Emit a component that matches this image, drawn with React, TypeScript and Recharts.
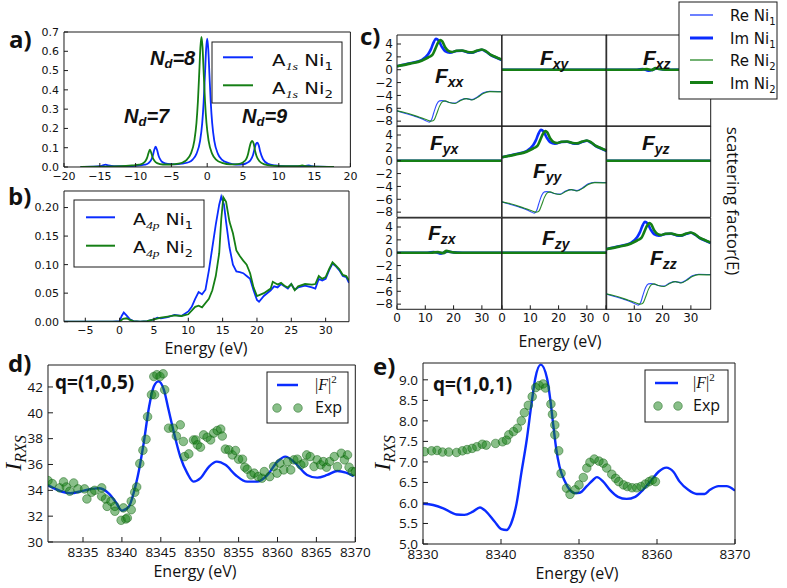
import React from 'react';
import { ComposedChart, Line, Scatter, XAxis, YAxis } from 'recharts';

// ---- data ----
const aNi1 = [[-17.7, 0.001], [-16, 0.002], [-15, 0.004], [-14.6, 0.008], [-14.2, 0.012], [-13.8, 0.008], [-13, 0.004], [-11, 0.004], [-9.5, 0.008], [-8.7, 0.012], [-8.2, 0.02], [-7.8, 0.038], [-7.6, 0.058], [-7.4, 0.088], [-7.2, 0.105], [-7.0, 0.088], [-6.8, 0.06], [-6.6, 0.042], [-6.2, 0.024], [-5.5, 0.016], [-4.5, 0.014], [-3.5, 0.018], [-2.5, 0.026], [-2, 0.04], [-1.5, 0.068], [-1, 0.134], [-0.7, 0.226], [-0.5, 0.334], [-0.3, 0.49], [-0.15, 0.611], [0, 0.665], [0.15, 0.611], [0.3, 0.49], [0.5, 0.334], [0.7, 0.226], [1, 0.134], [1.5, 0.068], [2, 0.04], [3, 0.02], [4, 0.013], [5, 0.014], [5.5, 0.02], [6, 0.033], [6.4, 0.062], [6.6, 0.092], [6.8, 0.118], [7, 0.126], [7.2, 0.112], [7.4, 0.08], [7.8, 0.04], [8.5, 0.016], [9.5, 0.008], [11, 0.004], [13, 0.004], [13.8, 0.006], [14.2, 0.008], [14.6, 0.005], [15.5, 0.002], [17.7, 0.001]];
const aNi2 = [[-17.7, 0.001], [-15, 0.002], [-12, 0.004], [-10.5, 0.008], [-9.5, 0.012], [-9.0, 0.018], [-8.6, 0.032], [-8.4, 0.047], [-8.2, 0.072], [-8.0, 0.09], [-7.8, 0.072], [-7.6, 0.047], [-7.4, 0.034], [-7.0, 0.02], [-6.2, 0.013], [-5, 0.013], [-4, 0.017], [-3.3, 0.026], [-2.8, 0.04], [-2.3, 0.068], [-1.8, 0.135], [-1.5, 0.228], [-1.3, 0.338], [-1.1, 0.497], [-0.95, 0.62], [-0.8, 0.675], [-0.65, 0.62], [-0.5, 0.497], [-0.3, 0.338], [-0.1, 0.228], [0.2, 0.135], [0.7, 0.068], [1.2, 0.04], [2.2, 0.02], [3.2, 0.014], [4.3, 0.015], [5.0, 0.024], [5.5, 0.045], [5.7, 0.066], [5.9, 0.1], [6.1, 0.126], [6.3, 0.135], [6.5, 0.12], [6.7, 0.082], [6.9, 0.056], [7.3, 0.03], [8.0, 0.014], [9, 0.007], [11, 0.004], [12.5, 0.004], [13.0, 0.006], [13.3, 0.008], [13.7, 0.005], [15, 0.002], [17.7, 0.001]];

const bNi1 = [[-8.1, 0], [-1, 0], [0, 0.001], [0.3, 0.01], [0.6, 0.016], [1.0, 0.011], [1.5, 0.004], [2, 0.001], [3, 0], [4, 0.001], [5, 0.004], [5.5, 0.007], [6, 0.006], [7, 0.008], [8, 0.012], [9, 0.01], [10, 0.018], [10.5, 0.026], [11, 0.04], [11.5, 0.052], [12, 0.048], [12.5, 0.056], [13, 0.09], [13.5, 0.13], [14, 0.17], [14.5, 0.205], [14.8, 0.219], [15.2, 0.205], [15.5, 0.175], [16, 0.13], [16.5, 0.1], [17, 0.088], [17.5, 0.087], [18, 0.085], [18.5, 0.08], [19, 0.075], [19.5, 0.055], [20, 0.038], [20.3, 0.035], [21, 0.045], [22, 0.055], [22.5, 0.062], [23, 0.06], [23.5, 0.066], [24, 0.062], [24.5, 0.058], [25, 0.066], [25.5, 0.056], [26, 0.06], [27, 0.063], [28, 0.06], [28.5, 0.058], [29, 0.075], [29.5, 0.072], [30, 0.075], [30.5, 0.09], [31, 0.102], [31.5, 0.097], [32, 0.09], [32.5, 0.08], [33, 0.078], [33.4, 0.068]];
const bNi2 = [[-8.1, 0], [0, 0], [0.5, 0.005], [1, 0.006], [1.5, 0.003], [2, 0.001], [3, 0], [4, 0.001], [5, 0.004], [6, 0.007], [7, 0.009], [8, 0.011], [9, 0.01], [10, 0.013], [11, 0.026], [11.5, 0.028], [12, 0.025], [13, 0.04], [13.5, 0.055], [14, 0.08], [14.5, 0.12], [14.8, 0.18], [15.1, 0.218], [15.5, 0.21], [16, 0.175], [16.5, 0.155], [17, 0.125], [17.5, 0.115], [18, 0.107], [18.5, 0.1], [19, 0.085], [19.5, 0.06], [20, 0.045], [21, 0.05], [22, 0.058], [22.3, 0.07], [23, 0.065], [23.5, 0.068], [24, 0.063], [24.5, 0.06], [25, 0.066], [25.5, 0.055], [26, 0.062], [27, 0.066], [28, 0.065], [28.5, 0.066], [29, 0.08], [29.5, 0.075], [30, 0.078], [30.5, 0.092], [31, 0.104], [31.5, 0.098], [32, 0.092], [32.5, 0.082], [33, 0.08], [33.4, 0.072]];

// panel c: diagonal components
const reNi1 = [[0, -6.4], [3, -6.8], [6, -7.2], [8, -7.5], [10, -7.9], [11.4, -8.15], [12.2, -7.8], [13, -6.7], [14, -5.4], [15, -4.85], [16, -4.8], [17, -4.9], [18.5, -5.1], [20.5, -5.2], [22.5, -4.7], [24.5, -4.5], [26.5, -4.65], [28.5, -4.2], [30.5, -3.6], [32.8, -3.35], [37, -3.4]];
const reNi2 = [[0, -6.4], [3, -6.7], [6, -7.1], [8, -7.4], [10, -7.7], [12, -8.0], [12.9, -7.9], [14, -6.9], [15, -5.7], [16, -5.0], [17, -4.85], [18.5, -5.1], [20.5, -5.25], [22.5, -4.8], [24.5, -4.5], [26.5, -4.7], [28.5, -4.3], [30.5, -3.7], [32.8, -3.4], [37, -3.45]];
const imNi1 = [[0, 0.55], [4.6, 1.0], [8.7, 1.5], [11, 2.4], [12, 3.2], [12.8, 4.1], [13.8, 4.8], [14.6, 4.6], [15.8, 3.6], [17, 2.9], [18.7, 2.65], [21, 2.9], [23, 2.95], [25, 2.7], [26.5, 2.65], [28.5, 2.95], [30, 3.1], [31.5, 2.8], [33, 2.3], [35, 1.9], [37, 1.5]];
const imNi2 = [[0, 0.55], [4.6, 0.95], [8.7, 1.4], [11, 1.9], [12.5, 2.3], [13.5, 3.2], [14.5, 4.2], [15.3, 4.6], [16, 4.4], [17, 3.5], [18.3, 2.9], [19.5, 2.75], [21, 2.95], [23, 3.0], [25, 2.75], [26.5, 2.7], [28.5, 3.0], [30, 3.15], [31.5, 2.85], [33, 2.35], [35, 1.95], [37, 1.6]];
// off-diagonal
const zeroLine = [[0, 0], [37, 0]];
const xzRe1 = [[0, 0], [10, 0], [12, 0.05], [14, 0.15], [15.5, -0.2], [17, 0.1], [19, 0.15], [21, 0], [25, 0.05], [30, 0], [37, 0]];
const xzIm1 = [[0, 0], [11, 0], [13, 0.1], [15, -0.15], [16.5, 0], [18, 0.2], [20, 0.05], [23, 0], [37, 0]];
const xzRe2 = [[0, 0], [12, 0], [14, 0.1], [16.5, -0.15], [18, 0.2], [20, 0.1], [22, 0], [37, 0]];
const xzIm2 = [[0, 0], [12, 0], [14.5, 0.1], [16, -0.05], [17.5, 0.25], [19, 0.1], [21, 0], [37, 0]];
const zxRe1 = [[0, 0], [10, 0], [12, 0.1], [14, 0.15], [15.5, -0.25], [17, 0.05], [19, 0.15], [21, 0], [30, 0], [35, -0.1], [37, -0.05]];
const zxIm1 = [[0, 0], [11, 0], [13, 0.12], [15, -0.1], [16.5, 0], [18, 0.2], [20, 0.05], [23, 0], [37, 0]];
const zxRe2 = [[0, 0], [12, 0], [14, 0.1], [16.5, -0.2], [18, 0.2], [20, 0.1], [22, 0], [34, 0], [36, -0.08], [37, 0]];
const zxIm2 = [[0, 0], [12, 0], [14.5, 0.1], [16, -0.05], [17.5, 0.3], [19, 0.1], [21, 0], [37, 0]];

const dFit = [[8330.4, 34.42], [8333.4, 33.77], [8335.1, 33.98], [8337, 34.16], [8338.3, 33.77], [8339.2, 33.1], [8340, 32.43], [8340.9, 32.74], [8341.5, 33.77], [8342.2, 35.58], [8342.8, 37.65], [8343.5, 40.49], [8344.1, 42.04], [8344.7, 42.43], [8345.4, 41.78], [8346, 40.23], [8346.7, 38.43], [8347.5, 36.61], [8348.4, 35.33], [8349.2, 34.67], [8350.1, 34.94], [8351.2, 35.84], [8352.2, 36.22], [8353.3, 35.97], [8354.6, 35.19], [8356.1, 34.67], [8357.4, 34.67], [8358.7, 35.19], [8360, 36.22], [8361, 36.61], [8362.3, 36.1], [8363.8, 35.19], [8365.1, 34.98], [8366.4, 35.19], [8367.7, 35.5], [8368.8, 35.37], [8369.8, 35.1]];
const dExp = [[8330.5, 34.75], [8331.05, 34.52], [8332.0, 34.19], [8332.5, 34.65], [8332.85, 34.26], [8333.3, 33.93], [8333.8, 34.57], [8334.35, 34.11], [8335.2, 34.11], [8335.5, 33.33], [8336.1, 33.85], [8336.5, 34.0], [8337.4, 34.19], [8337.4, 33.54], [8337.9, 33.33], [8338.1, 32.76], [8338.6, 33.15], [8339.1, 32.76], [8339.1, 32.38], [8339.9, 31.68], [8340.2, 32.64], [8340.5, 31.78], [8340.7, 31.86], [8341.2, 32.5], [8341.2, 33.15], [8341.65, 33.85], [8341.9, 34.26], [8342.3, 36.07], [8342.7, 37.1], [8343.1, 37.95], [8343.3, 39.7], [8343.8, 41.4], [8344.2, 41.4], [8344.1, 42.81], [8344.5, 42.95], [8344.9, 42.81], [8345.3, 43.02], [8345.5, 41.78], [8346.0, 38.81], [8346.6, 38.81], [8347.0, 38.2], [8347.5, 39.07], [8347.9, 37.78], [8348.05, 36.61], [8348.6, 36.82], [8349.2, 37.9], [8349.5, 37.9], [8349.7, 37.52], [8350.1, 37.34], [8350.5, 38.29], [8350.95, 38.11], [8351.4, 37.9], [8351.8, 38.43], [8352.25, 38.63], [8352.7, 38.74], [8352.9, 38.2], [8353.3, 37.19], [8353.75, 37.13], [8354.2, 36.74], [8354.6, 37.08], [8355.0, 36.41], [8355.5, 36.41], [8355.8, 35.79], [8356.1, 35.63], [8356.6, 35.19], [8357.0, 35.33], [8357.5, 35.06], [8358.0, 34.94], [8358.3, 35.45], [8359.0, 35.06], [8359.5, 35.84], [8359.95, 35.33], [8360.3, 36.1], [8360.8, 35.58], [8361.3, 36.22], [8361.7, 35.58], [8362.1, 36.36], [8362.55, 36.41], [8363.0, 35.97], [8363.4, 36.1], [8363.75, 36.74], [8364.2, 36.61], [8364.7, 35.84], [8365.1, 36.36], [8365.55, 35.97], [8365.9, 36.22], [8366.3, 35.79], [8366.7, 36.22], [8367.3, 36.61], [8367.7, 35.84], [8368.2, 36.87], [8368.6, 36.36], [8369.0, 36.74], [8369.2, 35.79], [8369.6, 35.45], [8370.0, 35.45]];

const eFit = [[8330, 5.98], [8331.3, 5.95], [8332.6, 5.87], [8334.3, 5.72], [8335.3, 5.71], [8336.4, 5.79], [8337.3, 5.89], [8338.1, 5.79], [8339.2, 5.54], [8340.05, 5.36], [8340.7, 5.34], [8341.3, 5.5], [8342.0, 5.99], [8342.6, 6.72], [8343.3, 7.54], [8343.9, 8.4], [8344.4, 9.04], [8345.1, 9.37], [8345.9, 9.04], [8346.3, 8.55], [8346.7, 7.9], [8347.1, 7.29], [8347.5, 6.89], [8348.2, 6.52], [8348.8, 6.32], [8349.5, 6.24], [8350.1, 6.25], [8351.0, 6.41], [8351.8, 6.56], [8352.3, 6.63], [8353.1, 6.52], [8353.96, 6.32], [8355.0, 6.15], [8356.1, 6.1], [8357.2, 6.15], [8358.2, 6.32], [8359.3, 6.56], [8360.2, 6.76], [8361.2, 6.86], [8362.1, 6.76], [8362.9, 6.52], [8364.0, 6.32], [8365.1, 6.22], [8366.1, 6.22], [8366.8, 6.32], [8367.9, 6.41], [8368.9, 6.41], [8370, 6.3]];
const eExp = [[8330.2, 7.25], [8331.1, 7.27], [8331.8, 7.28], [8332.5, 7.24], [8333.3, 7.24], [8334.3, 7.23], [8335.05, 7.27], [8335.65, 7.3], [8336.3, 7.33], [8336.9, 7.37], [8337.6, 7.43], [8338.1, 7.41], [8339.3, 7.45], [8340.2, 7.49], [8340.7, 7.53], [8341.0, 7.66], [8341.6, 7.74], [8342.1, 7.82], [8342.6, 8.0], [8343.0, 8.2], [8343.5, 8.38], [8344.0, 8.59], [8344.45, 8.81], [8344.9, 8.86], [8345.4, 8.9], [8345.7, 8.8], [8346.4, 8.41], [8346.6, 8.16], [8346.9, 7.9], [8346.9, 7.66], [8347.4, 7.27], [8347.7, 6.72], [8348.4, 6.36], [8348.85, 6.21], [8349.5, 6.32], [8350.0, 6.44], [8350.55, 6.62], [8351.0, 6.85], [8351.4, 6.99], [8351.96, 7.07], [8352.56, 7.02], [8353.1, 6.97], [8353.55, 6.85], [8354.2, 6.7], [8354.7, 6.6], [8355.1, 6.52], [8355.7, 6.44], [8356.2, 6.4], [8356.8, 6.37], [8357.4, 6.37], [8357.95, 6.4], [8358.5, 6.46], [8359.0, 6.52], [8359.4, 6.56], [8359.8, 6.52]];

// tick labels
const aXTicks = [-20, -15, -10, -5, 0, 5, 10, 15, 20];
const aYTicks = [0, 0.1, 0.2, 0.3, 0.4, 0.5, 0.6, 0.7];
const bXTicks = [-5, 0, 5, 10, 15, 20, 25, 30];
const bYTicks = [0, 0.05, 0.1, 0.15, 0.2];
const cXTicks = [0, 10, 20, 30];
const cYTicks = [4, 2, 0, -2, -4, -6, -8];
const dXTicks = [8335, 8340, 8345, 8350, 8355, 8360, 8365, 8370];
const dYTicks = [30, 32, 34, 36, 38, 40, 42];
const eXTicks = [8330, 8340, 8350, 8360, 8370];
const eYTicks = [5, 5.5, 6, 6.5, 7, 7.5, 8, 8.5, 9];

const BLUE = '#0a2cff';
const GREEN = '#157f15';
const AX = '#1a1a1a';
const SANS = '"Open Sans", sans-serif';
const DJ = '"DejaVu Sans", sans-serif';
const SERIF = '"Liberation Serif", serif';
const ARIAL = '"Liberation Sans", Arial, sans-serif';

const toPts = (d: number[][]) => d.map(([x, y]) => ({ x, y }));
const fmt = (digits: number) => (v: number) => (v < 0 ? '\u2212' : '') + Math.abs(v).toFixed(digits);

const LW = 50;
const BH = 30;
const PT = 12;
const PR = 26;

type Box = { x: number; y: number; w: number; h: number };

interface FrameProps {
  box: Box;
  xDomain: [number, number];
  yDomain: [number, number];
  xTicks: number[];
  yTicks: number[];
  xFmt?: (v: number) => string;
  yFmt?: (v: number) => string;
  showX?: boolean;
  showY?: boolean;
  size: number;
  family: string;
  tl: number;
  gap: number;
  children?: React.ReactNode;
}

function Frame({ box, xDomain, yDomain, xTicks, yTicks, xFmt, yFmt, showX = true, showY = true, size, family, tl, gap, children }: FrameProps) {
  const tickStyle = { fontSize: size, fontFamily: family, fill: '#111' };
  return (
    <div style={{ position: 'absolute', left: box.x - LW, top: box.y - PT - 1 }}>
      <ComposedChart width={LW + box.w + 1 + PR} height={PT + 1 + box.h + BH} margin={{ top: PT, right: PR, bottom: 0, left: 0 }}>
        <XAxis xAxisId="b" dataKey="x" type="number" domain={xDomain} ticks={xTicks} allowDataOverflow interval={0} height={BH} stroke={AX} tickSize={-tl} tickMargin={tl + gap} tick={showX ? tickStyle : false} tickFormatter={xFmt} />
        <XAxis xAxisId="t" orientation="top" type="number" domain={xDomain} ticks={xTicks} allowDataOverflow interval={0} height={1} stroke={AX} tickSize={-tl} tick={false} />
        <YAxis yAxisId="l" dataKey="y" type="number" domain={yDomain} ticks={yTicks} allowDataOverflow interval={0} width={LW} stroke={AX} tickSize={-tl} tickMargin={tl + gap} tick={showY ? tickStyle : false} tickFormatter={yFmt} />
        <YAxis yAxisId="r" orientation="right" type="number" domain={yDomain} ticks={yTicks} allowDataOverflow interval={0} width={1} stroke={AX} tickSize={-tl} tick={false} />
        {children}
      </ComposedChart>
    </div>
  );
}

function curve(d: number[][], color: string, w: number, key: string, type: 'monotone' | 'linear' = 'monotone', opacity = 1) {
  return (
    <Line key={key} xAxisId="b" yAxisId="l" data={toPts(d)} dataKey="y" type={type} stroke={color} strokeWidth={w} strokeOpacity={opacity} dot={false} activeDot={false} isAnimationActive={false} />
  );
}

const expDot = (props: any) => (
  <circle cx={props.cx} cy={props.cy} r={4.3} fill="rgba(20,128,20,0.5)" stroke="rgba(10,90,10,0.55)" strokeWidth={0.8} />
);

// panel c layout
const cLeft = [397, 501.7, 606.3];
const cTop = [35, 126.3, 217.7];
const cW = 104.7;
const cH = 91.3;
const cells = [
  [[reNi1, imNi1, reNi2, imNi2], [zeroLine, zeroLine, zeroLine, zeroLine], [xzRe1, xzIm1, xzRe2, xzIm2]],
  [[zeroLine, zeroLine, zeroLine, zeroLine], [reNi1, imNi1, reNi2, imNi2], [zeroLine, zeroLine, zeroLine, zeroLine]],
  [[zxRe1, zxIm1, zxRe2, zxIm2], [zeroLine, zeroLine, zeroLine, zeroLine], [reNi1, imNi1, reNi2, imNi2]],
];
const cNames = [['xx', 'xy', 'xz'], ['yx', 'yy', 'yz'], ['zx', 'zy', 'zz']];
// F label anchor (left x, baseline y)
const cLabelPos = [
  [[435, 83], [540, 65], [643, 65]],
  [[430, 150], [533, 178], [642, 150]],
  [[428, 240], [542, 245], [650, 265]],
];

function LegendText({ x, y, width, main, sub, idx, size }: { x: number; y: number; width: number; main: string; sub: string; idx: string; size: number }) {
  return (
    <text x={x} y={y} fontFamily={DJ} fontSize={size} textLength={width} lengthAdjust="spacingAndGlyphs" fill="#111">
      <tspan>{main}</tspan>
      <tspan fontFamily={SERIF} fontStyle="italic" fontSize={size * 0.72} dy={4}>{sub}</tspan>
      <tspan dy={-4}>{' Ni'}</tspan>
      <tspan fontSize={size * 0.68} dy={4}>{idx}</tspan>
    </text>
  );
}

function Overlay() {
  const panel = (t: string, x: number, y: number) => (
    <text x={x} y={y} fontFamily={SANS} fontWeight={700} fontSize={24} fill="#111">{t}</text>
  );
  const nd = (v: string, x: number, y: number) => (
    <text x={x} y={y} fontFamily={ARIAL} fontWeight={700} fontStyle="italic" fontSize={20} fill="#111">
      <tspan>N</tspan>
      <tspan fontSize={13} dy={3}>d</tspan>
      <tspan dy={-3}>{'=' + v}</tspan>
    </text>
  );
  const energy = (x: number, y: number) => (
    <text x={x} y={y} textAnchor="middle" fontFamily={SANS} fontSize={16} fill="#111">Energy (eV)</text>
  );
  const irxs = (x: number, y: number) => (
    <text transform={`translate(${x},${y}) rotate(-90)`} textAnchor="middle" fontFamily={SERIF} fontStyle="italic" fontSize={24} fill="#111">
      <tspan>I</tspan>
      <tspan fontSize={16} dy={5}>RXS</tspan>
    </text>
  );
  const cLeg = [
    { label: 'Re', idx: '1', color: BLUE, w: 1.2 },
    { label: 'Im', idx: '1', color: BLUE, w: 3 },
    { label: 'Re', idx: '2', color: GREEN, w: 1.2 },
    { label: 'Im', idx: '2', color: GREEN, w: 3 },
  ];
  const cLegY = [15, 38, 60, 82.5];
  const fitLegend = (bx: number, by: number, bw: number, bh: number, lx1: number, lx2: number, cx1: number, cx2: number, tx: number) => (
    <g>
      <rect x={bx} y={by} width={bw} height={bh} fill="#fff" stroke={AX} strokeWidth={1} />
      <line x1={lx1} x2={lx2} y1={by + 13} y2={by + 13} stroke={BLUE} strokeWidth={2.5} />
      <text x={tx} y={by + 18} fontFamily={SERIF} fontSize={16} fill="#111">
        <tspan>|</tspan>
        <tspan fontStyle="italic">F</tspan>
        <tspan>|</tspan>
        <tspan fontSize={11} dy={-7}>2</tspan>
      </text>
      <circle cx={cx1} cy={by + 36} r={4.3} fill="rgba(20,128,20,0.5)" stroke="rgba(10,90,10,0.55)" strokeWidth={0.8} />
      <circle cx={cx2} cy={by + 36} r={4.3} fill="rgba(20,128,20,0.5)" stroke="rgba(10,90,10,0.55)" strokeWidth={0.8} />
      <text x={tx} y={by + 41} fontFamily={SANS} fontSize={16} fill="#111">Exp</text>
    </g>
  );
  return (
    <svg width={787} height={588} style={{ position: 'absolute', left: 0, top: 0, pointerEvents: 'none' }}>
      {panel('a)', 9, 48)}
      {panel('b)', 8, 205)}
      {panel('c)', 360, 45)}
      {panel('d)', 8, 372)}
      {panel('e)', 373, 375)}

      {nd('8', 150, 65)}
      {nd('7', 124, 123)}
      {nd('9', 242, 123)}

      {/* legend a */}
      <rect x={212} y={42} width={130} height={61} fill="#fff" stroke={AX} strokeWidth={1} />
      <line x1={223} x2={253} y1={57.3} y2={57.3} stroke={BLUE} strokeWidth={2} />
      <LegendText x={272} y={66} width={61} main="A" sub="1s" idx="1" size={15} />
      <line x1={223} x2={253} y1={85.3} y2={85.3} stroke={GREEN} strokeWidth={2} />
      <LegendText x={272} y={94} width={61} main="A" sub="1s" idx="2" size={15} />

      {/* legend b */}
      <rect x={74} y={200} width={130} height={67} fill="#fff" stroke={AX} strokeWidth={1} />
      <line x1={86} x2={115} y1={217.3} y2={217.3} stroke={BLUE} strokeWidth={2} />
      <LegendText x={133} y={225} width={60} main="A" sub="4p" idx="1" size={15} />
      <line x1={86} x2={115} y1={245.7} y2={245.7} stroke={GREEN} strokeWidth={2} />
      <LegendText x={133} y={253} width={60} main="A" sub="4p" idx="2" size={15} />

      {/* legend c */}
      <rect x={679} y={2} width={98} height={97} fill="#fff" stroke={AX} strokeWidth={1} />
      {cLeg.map((l, i) => (
        <g key={i}>
          <line x1={690} x2={713} y1={cLegY[i]} y2={cLegY[i]} stroke={l.color} strokeWidth={l.w} />
          <text x={730} y={cLegY[i] + 6} fontFamily={DJ} fontSize={15} fill="#111">
            <tspan>{l.label + ' Ni'}</tspan>
            <tspan fontSize={10} dy={4}>{l.idx}</tspan>
          </text>
        </g>
      ))}

      {cNames.map((row, r) =>
        row.map((nm, c) => (
          <text key={nm} x={cLabelPos[r][c][0]} y={cLabelPos[r][c][1]} fontFamily={ARIAL} fontWeight={700} fontStyle="italic" fontSize={21} fill="#111">
            <tspan>F</tspan>
            <tspan fontSize={14} dy={4}>{nm}</tspan>
          </text>
        ))
      )}

      <text transform="translate(727,201) rotate(90)" textAnchor="middle" fontFamily={SANS} fontSize={17} fill="#111">scattering factor(E)</text>

      {energy(206, 353.5)}
      {energy(560, 346.5)}
      {energy(195, 576.5)}
      {energy(577, 578.5)}

      {irxs(21, 453)}
      {irxs(390, 453)}

      <text x={55} y={389} fontFamily={SANS} fontWeight={700} fontSize={19} fill="#111">q=(1,0,5)</text>
      <text x={433} y={391} fontFamily={SANS} fontWeight={700} fontSize={19} fill="#111">q=(1,0,1)</text>

      {fitLegend(267, 372, 81, 51, 277, 298, 277, 298, 315)}
      {fitLegend(645, 370, 83, 52, 655, 678, 658, 678, 693)}
    </svg>
  );
}

export default function App() {
  const dj11 = { size: 11, family: DJ, tl: 4, gap: 5 };
  const dj12 = { size: 12, family: DJ, tl: 4, gap: 4 };
  const os = { size: 13.5, family: SANS, tl: 5, gap: 5 };
  return (
    <div style={{ position: 'absolute', left: 0, top: 0, width: 787, height: 588, background: '#fff', overflow: 'hidden' }}>
      <Frame box={{ x: 64.3, y: 31.7, w: 286.4, h: 135 }} xDomain={[-20, 20]} yDomain={[0, 0.7]} xTicks={aXTicks} yTicks={aYTicks} xFmt={fmt(0)} yFmt={fmt(1)} {...dj11}>
        {curve(aNi1, BLUE, 1.8, 'a1')}
        {curve(aNi2, GREEN, 1.8, 'a2')}
      </Frame>

      <Frame box={{ x: 64.3, y: 191, w: 285, h: 130.7 }} xDomain={[-8.1, 33.4]} yDomain={[0, 0.229]} xTicks={bXTicks} yTicks={bYTicks} xFmt={fmt(0)} yFmt={fmt(2)} {...dj11}>
        {curve(bNi1, BLUE, 1.8, 'b1', 'linear')}
        {curve(bNi2, GREEN, 1.8, 'b2', 'linear')}
      </Frame>

      {cells.map((row, r) =>
        row.map((set, c) => (
          <Frame key={`${r}-${c}`} box={{ x: cLeft[c], y: cTop[r], w: cW, h: cH }} xDomain={[0, 37]} yDomain={[-8.8, 5.4]} xTicks={cXTicks} yTicks={cYTicks} xFmt={fmt(0)} yFmt={fmt(0)} showX={r === 2} showY={c === 0} {...dj12}>
            {curve(set[0], BLUE, 1.1, 're1', 'monotone', 0.85)}
            {curve(set[1], BLUE, 2.6, 'im1')}
            {curve(set[2], GREEN, 1.1, 're2', 'monotone', 0.9)}
            {curve(set[3], GREEN, 2.6, 'im2')}
          </Frame>
        ))
      )}

      <Frame box={{ x: 47.7, y: 365, w: 307.3, h: 177 }} xDomain={[8330.5, 8370]} yDomain={[30, 43.7]} xTicks={dXTicks} yTicks={dYTicks} xFmt={fmt(0)} yFmt={fmt(0)} {...os}>
        {curve(dFit, BLUE, 2.4, 'dfit')}
        <Scatter xAxisId="b" yAxisId="l" data={toPts(dExp)} dataKey="y" shape={expDot} isAnimationActive={false} />
      </Frame>

      <Frame box={{ x: 423, y: 363, w: 312, h: 181 }} xDomain={[8330, 8370]} yDomain={[5, 9.41]} xTicks={eXTicks} yTicks={eYTicks} xFmt={fmt(0)} yFmt={fmt(1)} {...os}>
        {curve(eFit, BLUE, 2.4, 'efit')}
        <Scatter xAxisId="b" yAxisId="l" data={toPts(eExp)} dataKey="y" shape={expDot} isAnimationActive={false} />
      </Frame>

      <Overlay />
    </div>
  );
}
